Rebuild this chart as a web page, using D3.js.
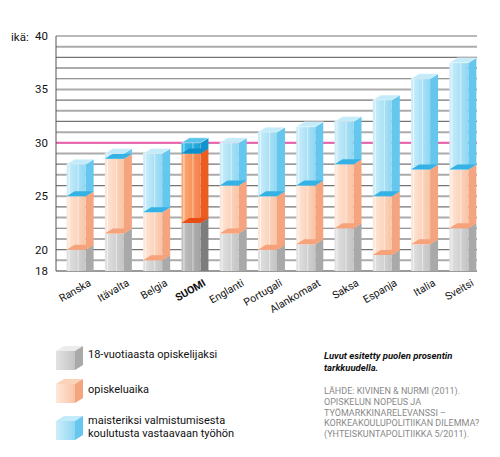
<!DOCTYPE html>
<html>
<head>
<meta charset="utf-8">
<script src="https://cdn.jsdelivr.net/npm/d3@7"></script>
<style>
  body { margin: 0; background: #fff; }
  svg text { font-family: Roboto, "Noto Sans", sans-serif; }
</style>
</head>
<body>
<div class="canvas"></div>
<script>
// data: ages at each stage
const countries = ['Ranska', 'Itävalta', 'Belgia', 'SUOMI', 'Englanti', 'Portugali', 'Alankomaat', 'Saksa', 'Espanja', 'Italia', 'Sveitsi']
const startAge = [20, 21.5, 19, 22.5, 21.5, 20, 20.5, 22, 19.5, 20.5, 22]      // 18-vuotiaasta opiskelijaksi
const gradAge = [25, 28.5, 23.5, 29, 26, 25, 26, 28, 25, 27.5, 27.5]           // opiskeluaika
const workAge = [28, 29, 29, 30, 30, 31, 31.5, 32, 34, 36, 37.5]               // maisteriksi valmistumisesta työhön
const yTicks = [40, 35, 30, 25, 20, 18]
const highlight = 'SUOMI'

const legendLabels = [
    ['18-vuotiaasta opiskelijaksi'],
    ['opiskeluaika'],
    ['maisteriksi valmistumisesta', 'koulutusta vastaavaan työhön']
]
const noteLines = ['Luvut esitetty puolen prosentin', 'tarkkuudella.']
const sourceLines = ['LÄHDE: KIVINEN & NURMI (2011).', 'OPISKELUN NOPEUS JA', 'TYÖMARKKINARELEVANSSI –', 'KORKEAKOULUPOLITIIKAN DILEMMA?', '(YHTEISKUNTAPOLITIIKKA 5/2011).']

const width = 500
const height = 457
const plot = { left: 56, right: 477, top: 36, bottom: 271 }
const depthX = 8
const depthY = 5
const frontW = 19

// colours per series: [normal, highlighted]
const palette = [
    [
        { f1: '#e2e2e2', f2: '#c4c4c4', side: '#a9a9a9', floor: '#d0d0d0', top: '#ececec' },
        { f1: '#c2c2c2', f2: '#a2a2a2', side: '#7d7d7d', floor: '#b0b0b0', top: '#d4d4d4' }
    ],
    [
        { f1: '#fee8da', f2: '#fac4a5', side: '#f4a47f', floor: '#f6a27a', top: '#fbd3bb' },
        { f1: '#fcab76', f2: '#f5814a', side: '#ea5c20', floor: '#e84d16', top: '#f79a66' }
    ],
    [
        { f1: '#cdeefa', f2: '#90d7f3', side: '#66c7ee', floor: '#35b2e5', top: '#c3ebfa' },
        { f1: '#3dbbe8', f2: '#1aa2d8', side: '#1293cb', floor: '#0e8fc8', top: '#57c6ec' }
    ]
]

const svg = d3.select('.canvas')
    .append('svg')
    .attr('width', width)
    .attr('height', height)

const defs = svg.append('defs')
palette.forEach((pair, s) => {
    pair.forEach((c, h) => {
        const g = defs.append('linearGradient')
            .attr('id', `grad-${s}-${h}`)
            .attr('x1', 0).attr('x2', 1).attr('y1', 0).attr('y2', 0)
        g.append('stop').attr('offset', '0%').attr('stop-color', c.f1)
        g.append('stop').attr('offset', '100%').attr('stop-color', c.f2)
    })
})

// scales
const x = d3.scaleBand()
    .domain(countries)
    .range([plot.left, plot.right])
    .paddingInner(0.294)
    .paddingOuter(0.147)

const y = d3.scaleLinear()
    .domain([18, 40])
    .range([plot.bottom, plot.top])

// grid lines every year
const grid = svg.append('g').attr('class', 'grid')
grid.selectAll('line')
    .data(d3.range(19, 41))
    .enter().append('line')
    .attr('x1', plot.left)
    .attr('x2', plot.right)
    .attr('y1', d => y(d))
    .attr('y2', d => y(d))
    .attr('stroke', d => d % 2 === 0 ? '#747474' : '#ababab')
    .attr('stroke-width', d => d % 2 === 0 ? 1.2 : 2)

// 30 years reference line
svg.append('line')
    .attr('x1', plot.left).attr('x2', plot.right)
    .attr('y1', y(30)).attr('y2', y(30))
    .attr('stroke', '#ef5fae')
    .attr('stroke-width', 2)

// axes lines
svg.append('line')
    .attr('x1', plot.left).attr('x2', plot.right)
    .attr('y1', y(18)).attr('y2', y(18))
    .attr('stroke', '#9a9a9a').attr('stroke-width', 2)
svg.append('line')
    .attr('x1', plot.left).attr('x2', plot.left)
    .attr('y1', y(40)).attr('y2', y(18))
    .attr('stroke', '#555').attr('stroke-width', 1)

// y labels
svg.append('g').selectAll('text')
    .data(yTicks)
    .enter().append('text')
    .attr('x', 48)
    .attr('y', d => y(d) + 4)
    .attr('text-anchor', 'end')
    .attr('font-size', 11.5)
    .attr('fill', '#111')
    .text(d => d)

svg.append('text')
    .attr('x', 11).attr('y', 41)
    .attr('font-size', 11.5)
    .attr('fill', '#111')
    .text('ikä:')

// bars
const segments = countries.map((c, i) => {
    const stops = [18, startAge[i], gradAge[i], workAge[i]]
    return [0, 1, 2].map(s => ({ country: c, series: s, y0: stops[s], y1: stops[s + 1], hl: c === highlight ? 1 : 0 }))
})

const bars = svg.append('g').attr('class', 'bars')

segments.forEach(segs => {
    const g = bars.append('g')
    const bx = x(segs[0].country) + 5
    segs.forEach((d, k) => {
        const c = palette[d.series][d.hl]
        const yt = y(d.y1)
        const yb = y(d.y0)
        // side face
        g.append('polygon')
            .attr('points', [
                [bx + frontW, yt],
                [bx + frontW + depthX, yt - depthY],
                [bx + frontW + depthX, k === 0 ? yb : yb - depthY],
                [bx + frontW, yb]
            ].join(' '))
            .attr('fill', c.side)
        // front face
        g.append('rect')
            .attr('x', bx)
            .attr('y', yt)
            .attr('width', frontW)
            .attr('height', yb - yt)
            .attr('fill', `url(#grad-${d.series}-${d.hl})`)
        // glassy highlight stripes
        g.append('rect')
            .attr('x', bx + 2).attr('y', yt)
            .attr('width', 1).attr('height', yb - yt)
            .attr('fill', '#fff').attr('opacity', 0.6)
        g.append('rect')
            .attr('x', bx + 11).attr('y', yt)
            .attr('width', 1).attr('height', yb - yt)
            .attr('fill', '#fff').attr('opacity', 0.5)
        // floor seen through the glass
        if (k > 0) {
            g.append('polygon')
                .attr('points', [
                    [bx, yb],
                    [bx + depthX, yb - depthY],
                    [bx + frontW + depthX, yb - depthY],
                    [bx + frontW, yb]
                ].join(' '))
                .attr('fill', c.floor)
        }
        // lid on the top segment
        if (k === segs.length - 1) {
            g.append('polygon')
                .attr('points', [
                    [bx, yt],
                    [bx + depthX, yt - depthY],
                    [bx + frontW + depthX, yt - depthY],
                    [bx + frontW, yt]
                ].join(' '))
                .attr('fill', c.top)
                .attr('stroke', '#fff').attr('stroke-width', 0.6).attr('stroke-opacity', 0.7)
        }
    })
})

// x labels
svg.append('g').selectAll('text')
    .data(countries)
    .enter().append('text')
    .attr('transform', d => `translate(${x(d) + x.bandwidth() + 3}, 285) rotate(-30)`)
    .attr('text-anchor', 'end')
    .attr('font-size', 10.5)
    .attr('font-weight', d => d === highlight ? 'bold' : 'normal')
    .attr('fill', '#111')
    .text(d => d)

// legend
const legendY = [346, 379, 416]
const legendText = [[358], [393], [424, 437]]
const legend = svg.append('g').attr('class', 'legend')
legendLabels.forEach((lines, s) => {
    const c = palette[s][0]
    const lx = 56
    const ly = legendY[s]
    legend.append('polygon')
        .attr('points', [[lx, ly + depthY], [lx + depthX, ly], [lx + frontW + depthX, ly], [lx + frontW, ly + depthY]].join(' '))
        .attr('fill', c.top)
    legend.append('polygon')
        .attr('points', [[lx + frontW, ly + depthY], [lx + frontW + depthX, ly], [lx + frontW + depthX, ly + 19], [lx + frontW, ly + 24]].join(' '))
        .attr('fill', c.side)
    legend.append('rect')
        .attr('x', lx).attr('y', ly + depthY)
        .attr('width', frontW).attr('height', 19)
        .attr('fill', `url(#grad-${s}-0)`)
    lines.forEach((t, j) => {
        legend.append('text')
            .attr('x', 88)
            .attr('y', legendText[s][j])
            .attr('font-size', 11)
            .attr('fill', '#111')
            .text(t)
    })
})

// note + source
noteLines.forEach((t, j) => {
    svg.append('text')
        .attr('x', 324).attr('y', 359 + j * 12)
        .attr('font-size', 9.5)
        .attr('font-style', 'italic')
        .attr('font-weight', 'bold')
        .attr('fill', '#111')
        .text(t)
})
sourceLines.forEach((t, j) => {
    svg.append('text')
        .attr('x', 324).attr('y', 394 + j * 10.8)
        .attr('font-size', 9)
        .attr('fill', '#8a8a8a')
        .style('font-family', '"Liberation Sans Narrow", Roboto, sans-serif')
        .text(t)
})
</script>
</body>
</html>
